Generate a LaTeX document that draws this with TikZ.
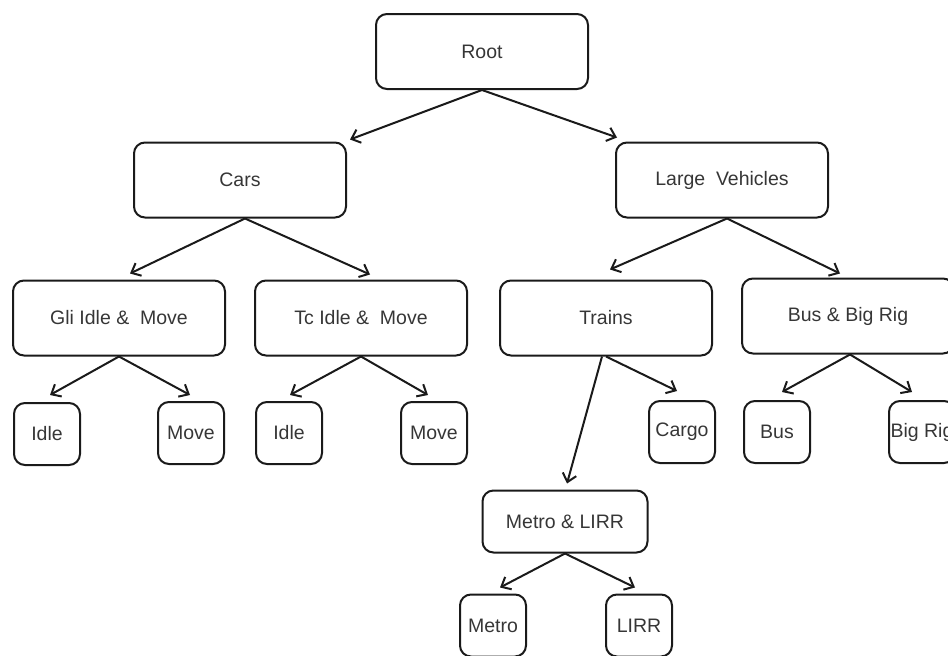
\documentclass[tikz,border=0pt]{standalone}
\usepackage{fontspec}
\setmainfont{Liberation Sans}
\usepackage{xcolor}
\usepackage{tikz}
\usetikzlibrary{arrows.meta,positioning}

\definecolor{boxline}{HTML}{1A1A1A}
\definecolor{boxtext}{HTML}{363636}
\newcommand{\boxfont}{\fontsize{19.5}{22}\selectfont}

\begin{document}
\begin{tikzpicture}[
    x=1pt, y=1pt,
    >={Straight Barb[length=8pt,width=14pt]},
    on grid,
    bigbox/.style={
        rectangle, draw=boxline, line width=2pt, rounded corners=11pt,
        minimum width=212pt, minimum height=75pt, inner sep=1pt,
        text=boxtext, font=\boxfont
    },
    leafbox/.style={
        bigbox, minimum width=66pt, minimum height=62pt
    },
    midbox/.style={
        bigbox, minimum width=165pt, minimum height=62pt
    },
    link/.style={
        ->, line width=2pt, draw=boxline
    }
]

\useasboundingbox (0,0) rectangle (948,-656);

% — Top of the tree —
\node[bigbox] (root) at (482,-51.5) {Root};

\node[bigbox, below=128.5pt of root, xshift=-242pt] (cars)  {Cars};
\node[bigbox, below=128.5pt of root, xshift=240pt]  (large) {Large~ Vehicles};

% — Second level —
\node[bigbox, below=138pt of cars, xshift=-121pt]   (gli)    {Gli Idle \&~ Move};
\node[bigbox, below=138pt of cars, xshift=121pt]    (tc)     {Tc Idle \&~ Move};
\node[bigbox, below=138pt of large, xshift=-116pt]  (trains) {Trains};
\node[bigbox, below=136pt of large, xshift=126pt]   (busrig) {Bus \& Big Rig};

% — Leaves —
\node[leafbox, below=116pt of gli, xshift=-72pt]    (idleA) {Idle};
\node[leafbox, below=115pt of gli, xshift=72pt]     (moveA) {Move};
\node[leafbox, below=115pt of tc, xshift=-72pt]     (idleB) {Idle};
\node[leafbox, below=115pt of tc, xshift=73pt]      (moveB) {Move};
\node[leafbox, below=114pt of trains, xshift=76pt]  (cargo) {Cargo};
\node[leafbox, below=116pt of busrig, xshift=-71pt] (bus)   {Bus};
\node[leafbox, below=116pt of busrig, xshift=74pt]  (bigrig) {Big Rig};

\node[midbox, below=203.5pt of trains, xshift=-41pt] (metrolirr) {Metro \& LIRR};
\node[leafbox, below=104pt of metrolirr, xshift=-72pt] (metro) {Metro};
\node[leafbox, below=104pt of metrolirr, xshift=74pt]  (lirr)  {LIRR};

% — Arrows —
\draw[link] (root.south) -- ([shift={(3pt,2pt)}]cars.north east);
\draw[link] (root.south) -- ([shift={(2pt,4pt)}]large.north west);

\draw[link] ([xshift=5pt]cars.south) -- ([shift={(11pt,6pt)}]gli.north);
\draw[link] ([xshift=5pt]cars.south) -- ([shift={(9pt,5pt)}]tc.north);
\draw[link] ([xshift=5pt]large.south) -- ([shift={(4pt,10pt)}]trains.north);
\draw[link] ([xshift=5pt]large.south) -- ([shift={(-8pt,4pt)}]busrig.north);

\draw[link] (gli.south) -- ([shift={(3pt,7pt)}]idleA.north);
\draw[link] (gli.south) -- ([shift={(-1pt,6pt)}]moveA.north);
\draw[link] (tc.south)  -- ([shift={(1pt,6pt)}]idleB.north);
\draw[link] (tc.south)  -- ([shift={(-6pt,6pt)}]moveB.north);

\draw[link] ([xshift=-4pt]trains.south) -- ([shift={(2pt,6pt)}]metrolirr.north);
\draw[link] (trains.south) -- ([shift={(-5pt,9pt)}]cargo.north);
\draw[link] ([xshift=2pt]busrig.south) -- ([shift={(5pt,8pt)}]bus.north);
\draw[link] ([xshift=2pt]busrig.south) -- ([shift={(-10pt,8pt)}]bigrig.north);

\draw[link] (metrolirr.south) -- ([shift={(7pt,6pt)}]metro.north);
\draw[link] (metrolirr.south) -- ([shift={(-4pt,6pt)}]lirr.north);

\end{tikzpicture}
\end{document}
